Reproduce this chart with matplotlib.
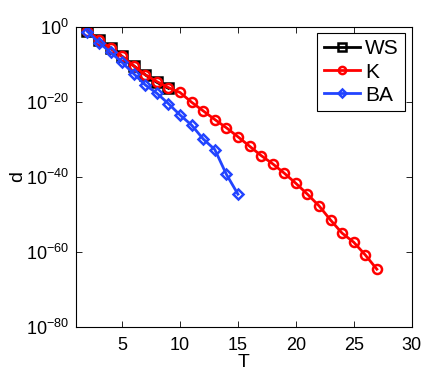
import matplotlib
matplotlib.use("Agg")
import matplotlib.pyplot as plt
import numpy as np

plt.rcParams['font.family'] = ['Liberation Sans', 'DejaVu Sans']
plt.rcParams['mathtext.fontset'] = 'custom'
plt.rcParams['mathtext.rm'] = 'Liberation Sans'
plt.rcParams['mathtext.it'] = 'Liberation Sans:italic'
plt.rcParams['mathtext.bf'] = 'Liberation Sans:bold'
plt.rcParams['mathtext.default'] = 'regular'

T_ws = [2, 3, 4, 5, 6, 7, 8, 9]
logd_ws = [-1.0, -3.5, -5.7, -7.9, -10.4, -12.8, -14.8, -16.4]

T_k = list(range(2, 28))
logd_k = [-1.0, -3.4, -5.7, -7.9, -10.4, -12.8, -14.6, -16.2, -17.5, -20.1,
          -22.4, -24.7, -26.9, -29.3, -31.8, -34.3, -36.5, -39.0, -41.7, -44.6,
          -47.7, -51.5, -55.0, -57.4, -60.8, -64.6]

T_ba = list(range(2, 16))
logd_ba = [-1.25, -4.2, -6.8, -9.5, -12.5, -15.5, -17.7, -20.5, -23.5, -26.2,
           -29.9, -32.7, -39.3, -44.6]

fig = plt.figure(figsize=(4.36, 3.78), dpi=100)
ax = fig.add_axes([0.174, 0.135, 0.770, 0.794])

ax.semilogy(T_ws, 10.0 ** np.array(logd_ws), '-s', color='black', lw=2,
            ms=6.5, mfc='none', mew=1.8, label='WS')
ax.semilogy(T_k, 10.0 ** np.array(logd_k), '-o', color='#ff0000', lw=2,
            ms=6.5, mfc='none', mew=1.8, label='K')
ax.semilogy(T_ba, 10.0 ** np.array(logd_ba), '-D', color='#2244ff', lw=2,
            ms=5.5, mfc='none', mew=1.8, label='BA')

ax.set_xlim(1, 30)
ax.set_ylim(1e-80, 1e0)
ax.set_xticks([5, 10, 15, 20, 25, 30])
ax.set_yticks([1e0, 1e-20, 1e-40, 1e-60, 1e-80])
ax.yaxis.set_minor_locator(matplotlib.ticker.NullLocator())
ax.tick_params(direction='in', top=True, right=True, labelsize=13, length=4,
               width=0.6)
ax.tick_params(axis='x', pad=7)
ax.tick_params(axis='y', pad=5)
ax.set_xlabel('T', fontsize=14, labelpad=0)
ax.set_ylabel('d', fontsize=14, labelpad=0)
for s in ax.spines.values():
    s.set_linewidth(0.8)

leg = ax.legend(loc='upper right', fontsize=15, fancybox=False, framealpha=1,
                edgecolor='black', handlelength=1.75, borderaxespad=0.3,
                labelspacing=0.2, handletextpad=0.25, borderpad=0.3,
                markerscale=0.8)
leg.get_frame().set_linewidth(0.8)

fig.savefig('out.png', dpi=100)
